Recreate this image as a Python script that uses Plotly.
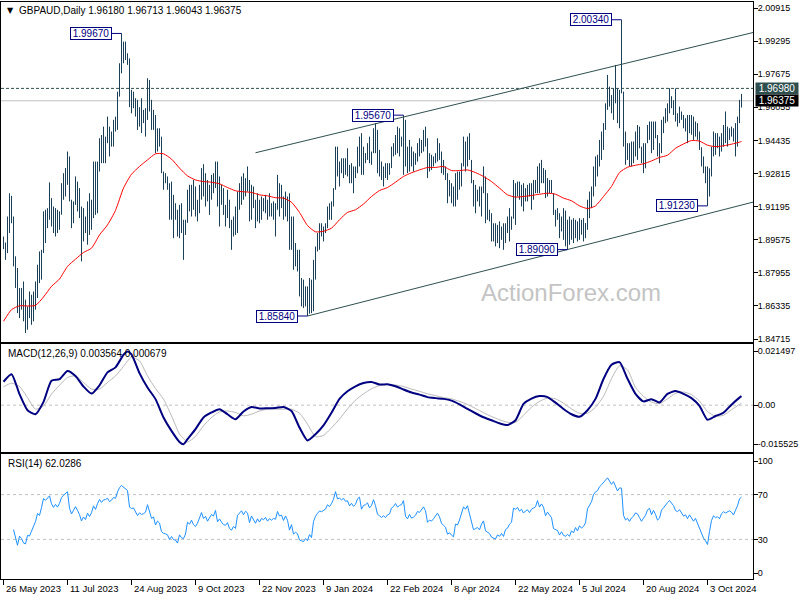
import plotly.graph_objects as go
import pandas as pd

# ---------------- DATA ----------------
highs = [
    1.8973, 1.8944, 1.9071, 1.9185, 1.9172, 1.9071, 1.8876, 1.8819, 1.8721, 1.8721,
    1.8753, 1.8664, 1.8631, 1.8704, 1.8688, 1.8704, 1.8753, 1.8835, 1.8900, 1.8908,
    1.9096, 1.9104, 1.9112, 1.9238, 1.9161, 1.9120, 1.9112, 1.9104, 1.9096, 1.9234,
    1.9283, 1.9308, 1.9389, 1.9365, 1.9153, 1.9145, 1.9267, 1.9242, 1.9210, 1.9120,
    1.9112, 1.9071, 1.9145, 1.9185, 1.9153, 1.9340, 1.9340, 1.9340, 1.9454, 1.9470,
    1.9511, 1.9462, 1.9560, 1.9511, 1.9487, 1.9544, 1.9560, 1.9682, 1.9821, 1.9967,
    1.9927, 1.9927, 1.9870, 1.9845, 1.9691, 1.9682, 1.9650, 1.9642, 1.9606, 1.9650,
    1.9593, 1.9601, 1.9748, 1.9739, 1.9642, 1.9593, 1.9568, 1.9503, 1.9503, 1.9462,
    1.9291, 1.9283, 1.9267, 1.9234, 1.9242, 1.9177, 1.9136, 1.9104, 1.9128, 1.9136,
    1.9055, 1.9055, 1.9202, 1.9226,
    1.9226, 1.9250, 1.9218, 1.9153, 1.9226, 1.9308, 1.9327, 1.9283, 1.9250, 1.9226,
    1.9275, 1.9283, 1.9340, 1.9340, 1.9267, 1.9226, 1.9210, 1.9128, 1.9202, 1.9153,
    1.9055, 1.9071, 1.9120, 1.9193, 1.9234, 1.9267, 1.9283, 1.9259, 1.9316, 1.9250,
    1.9226, 1.9218, 1.9153, 1.9185, 1.9153, 1.9169, 1.9161, 1.9177, 1.9153, 1.9185,
    1.9136, 1.9145, 1.9136, 1.9275, 1.9234, 1.9226, 1.9169, 1.9193, 1.9169, 1.9185,
    1.9071, 1.9071, 1.8941, 1.8908, 1.8908, 1.8770, 1.8762, 1.8729, 1.8729, 1.8770,
    1.8762, 1.8859, 1.8924, 1.8990, 1.9038, 1.9038, 1.9022, 1.9038, 1.9120, 1.9136,
    1.9145, 1.9210, 1.9413, 1.9413, 1.9340, 1.9356, 1.9356, 1.9356, 1.9405, 1.9324,
    1.9332, 1.9316, 1.9316, 1.9413, 1.9462, 1.9479, 1.9413, 1.9381, 1.9430, 1.9462,
    1.9389, 1.9503, 1.9528, 1.9495,
    1.9397, 1.9340, 1.9316, 1.9332, 1.9332, 1.9332, 1.9413, 1.9430, 1.9470, 1.9511,
    1.9503, 1.9462, 1.9567, 1.9544, 1.9413, 1.9446, 1.9413, 1.9389, 1.9381, 1.9430,
    1.9454, 1.9446, 1.9495, 1.9511, 1.9454, 1.9381, 1.9373, 1.9365, 1.9381, 1.9454,
    1.9430, 1.9389, 1.9348, 1.9316, 1.9283, 1.9250, 1.9234, 1.9218, 1.9283, 1.9291,
    1.9291, 1.9332, 1.9462, 1.9438, 1.9462, 1.9479, 1.9348, 1.9250, 1.9226, 1.9202,
    1.9218, 1.9218, 1.9316, 1.9267, 1.9185, 1.9104, 1.9087, 1.9038, 1.9038, 1.9030,
    1.9047, 1.9022, 1.9038, 1.9038, 1.9071, 1.9112, 1.9071, 1.9250, 1.9234, 1.9242,
    1.9242, 1.9226, 1.9234, 1.9210, 1.9226, 1.9234, 1.9234, 1.9250, 1.9250, 1.9316,
    1.9332, 1.9348, 1.9308, 1.9299, 1.9259, 1.9250, 1.9250, 1.9185, 1.9104, 1.9112,
    1.9087, 1.9071, 1.9112,
    1.9100, 1.9055, 1.9071, 1.9055, 1.9063, 1.9055, 1.9047, 1.9063, 1.9055, 1.9063,
    1.9039, 1.9153, 1.9193, 1.9218, 1.9316, 1.9365, 1.9373, 1.9446, 1.9487, 1.9528,
    1.9625, 1.9764, 1.9707, 1.9666, 1.9699, 1.9813, 1.9699, 1.9691, 2.0034, 1.9682,
    1.9487, 1.9430, 1.9430, 1.9438, 1.9438, 1.9487, 1.9519, 1.9511, 1.9413, 1.9430,
    1.9430, 1.9519, 1.9536, 1.9536, 1.9536, 1.9536, 1.9470, 1.9430, 1.9544, 1.9560,
    1.9601, 1.9625, 1.9699, 1.9660, 1.9640, 1.9698, 1.9576, 1.9609, 1.9585, 1.9568,
    1.9552, 1.9568, 1.9568, 1.9568, 1.9560, 1.9536, 1.9528, 1.9487, 1.9410, 1.9365,
    1.9316, 1.9316, 1.9307, 1.9413, 1.9487, 1.9479, 1.9479, 1.9462, 1.9479, 1.9519,
    1.9585, 1.9511, 1.9503, 1.9511, 1.9503, 1.9528, 1.9560, 1.9642, 1.96713,
]

lows = [
    1.8911, 1.8859, 1.8892, 1.8990, 1.9038, 1.8827, 1.8721, 1.8598, 1.8574, 1.8615,
    1.8558, 1.8501, 1.8517, 1.8574, 1.8541, 1.8558, 1.8615, 1.8672, 1.8745, 1.8762,
    1.8892, 1.8941, 1.9014, 1.9055, 1.9022, 1.8990, 1.8973, 1.8990, 1.9006, 1.9080,
    1.9153, 1.9169, 1.9226, 1.9145, 1.9014, 1.9038, 1.9128, 1.9096, 1.9063, 1.8851,
    1.8949, 1.8990, 1.8933, 1.8981, 1.9006, 1.9063, 1.9079, 1.9087, 1.9291, 1.9332,
    1.9332, 1.9332, 1.9430, 1.9365, 1.9413, 1.9413, 1.9487, 1.9495, 1.9658, 1.9772,
    1.9821, 1.9837, 1.9813, 1.9606, 1.9576, 1.9601, 1.9560, 1.9495, 1.9511, 1.9479,
    1.9528, 1.9462, 1.9544, 1.9585, 1.9495, 1.9495, 1.9381, 1.9389, 1.9413, 1.9283,
    1.9202, 1.9234, 1.9202, 1.9055, 1.9055, 1.8965, 1.9055, 1.8973, 1.8965, 1.8990,
    1.8859, 1.8981, 1.9040, 1.9096,
    1.9071, 1.9104, 1.9071, 1.9047, 1.9087, 1.9153, 1.9169, 1.9120, 1.9145, 1.9079,
    1.9153, 1.9185, 1.9210, 1.9120, 1.9022, 1.9128, 1.9079, 1.9022, 1.9063, 1.9014,
    1.8908, 1.8973, 1.8981, 1.8990, 1.9104, 1.9128, 1.9153, 1.9169, 1.9193, 1.9047,
    1.9055, 1.9112, 1.9014, 1.9047, 1.9038, 1.9055, 1.9096, 1.9087, 1.9055, 1.9071,
    1.9071, 1.9055, 1.8973, 1.9104, 1.9071, 1.9112, 1.9055, 1.9071, 1.9047, 1.8908,
    1.8908, 1.8810, 1.8827, 1.8802, 1.8680, 1.8631, 1.8623, 1.8631, 1.8584, 1.8595,
    1.8598, 1.8607, 1.8762, 1.8900, 1.8908, 1.8973, 1.8949, 1.8990, 1.9014, 1.9055,
    1.9055, 1.9120, 1.9202, 1.9267, 1.9218, 1.9283, 1.9259, 1.9275, 1.9267, 1.9234,
    1.9234, 1.9185, 1.9259, 1.9283, 1.9316, 1.9275, 1.9275, 1.9332, 1.9348, 1.9332,
    1.9324, 1.9381, 1.9381, 1.9283,
    1.9267, 1.9250, 1.9218, 1.9259, 1.9250, 1.9275, 1.9308, 1.9365, 1.9373, 1.9381,
    1.9365, 1.9413, 1.9275, 1.9316, 1.9283, 1.9291, 1.9316, 1.9291, 1.9324, 1.9340,
    1.9365, 1.9381, 1.9389, 1.9413, 1.9259, 1.9291, 1.9299, 1.9316, 1.9332, 1.9340,
    1.9348, 1.9283, 1.9275, 1.9250, 1.9136, 1.9169, 1.9136, 1.9120, 1.9120, 1.9153,
    1.9202, 1.9218, 1.9316, 1.9291, 1.9316, 1.9348, 1.9234, 1.9120, 1.9087, 1.9145,
    1.9120, 1.9071, 1.9185, 1.9038, 1.9055, 1.9047, 1.8949, 1.8949, 1.8925, 1.8941,
    1.8916, 1.8957, 1.8908, 1.8941, 1.8990, 1.8949, 1.9006, 1.9060, 1.9030, 1.9169,
    1.9153, 1.9120, 1.9096, 1.9145, 1.9145, 1.9169, 1.9104, 1.9153, 1.9185, 1.9185,
    1.9185, 1.9234, 1.9234, 1.9161, 1.9169, 1.9185, 1.9185, 1.9079, 1.9022, 1.9055,
    1.8965, 1.8998, 1.8957,
    1.8925, 1.8909, 1.8933, 1.8957, 1.8941, 1.8965, 1.8949, 1.8957, 1.8982, 1.8949,
    1.8965, 1.9006, 1.9063, 1.9112, 1.9169, 1.9218, 1.9267, 1.9316, 1.9348, 1.9397,
    1.9495, 1.9593, 1.9609, 1.9576, 1.9544, 1.9625, 1.9528, 1.9503, 1.9674, 1.9413,
    1.9324, 1.9348, 1.9316, 1.9316, 1.9332, 1.9365, 1.9348, 1.9405, 1.9332, 1.9283,
    1.9307, 1.9430, 1.9446, 1.9381, 1.9397, 1.9454, 1.9365, 1.9332, 1.9381, 1.9479,
    1.9528, 1.9536, 1.9576, 1.9601, 1.9568, 1.9536, 1.9511, 1.9528, 1.9544, 1.9503,
    1.9487, 1.9430, 1.9479, 1.9471, 1.9446, 1.9462, 1.9446, 1.9397, 1.9316, 1.9283,
    1.9234, 1.9123, 1.9169, 1.9267, 1.9365, 1.9373, 1.9405, 1.9365, 1.9389, 1.9413,
    1.9430, 1.9413, 1.9446, 1.9462, 1.9438, 1.9365, 1.9413, 1.9528, 1.96043,
]

closes = [
    1.8925, 1.8905, 1.9040, 1.9120, 1.9050, 1.8850, 1.8760, 1.8620, 1.8690, 1.8650,
    1.8560, 1.8540, 1.8610, 1.8600, 1.8640, 1.8690, 1.8730, 1.8820, 1.8800, 1.8900,
    1.9060, 1.9040, 1.9090, 1.9130, 1.9050, 1.9010, 1.9060, 1.9030, 1.9090, 1.9200,
    1.9250, 1.9280, 1.9330, 1.9150, 1.9070, 1.9135, 1.9200, 1.9150, 1.9090, 1.8990,
    1.9050, 1.9010, 1.9110, 1.9060, 1.9120, 1.9250, 1.9200, 1.9320, 1.9420, 1.9380,
    1.9440, 1.9450, 1.9480, 1.9440, 1.9470, 1.9530, 1.9520, 1.9670, 1.9800, 1.9880,
    1.9860, 1.9850, 1.9830, 1.9640, 1.9620, 1.9630, 1.9580, 1.9530, 1.9570, 1.9550,
    1.9560, 1.9580, 1.9690, 1.9600, 1.9520, 1.9540, 1.9420, 1.9470, 1.9440, 1.9285,
    1.9250, 1.9240, 1.9220, 1.9120, 1.9150, 1.9080, 1.9070, 1.9000, 1.9080, 1.9020,
    1.9000, 1.9045, 1.9180, 1.9150,
    1.9200, 1.9130, 1.9100, 1.9140, 1.9200, 1.9280, 1.9200, 1.9230, 1.9160, 1.9200,
    1.9250, 1.9230, 1.9310, 1.9150, 1.9190, 1.9140, 1.9100, 1.9090, 1.9120, 1.9030,
    1.9000, 1.9040, 1.9010, 1.9170, 1.9210, 1.9240, 1.9190, 1.9240, 1.9220, 1.9090,
    1.9180, 1.9130, 1.9070, 1.9130, 1.9080, 1.9130, 1.9110, 1.9140, 1.9090, 1.9120,
    1.9100, 1.9120, 1.9110, 1.9200, 1.9150, 1.9160, 1.9100, 1.9150, 1.9100, 1.8960,
    1.9020, 1.8850, 1.8870, 1.8840, 1.8700, 1.8680, 1.8660, 1.8690, 1.8640, 1.8700,
    1.8640, 1.8830, 1.8910, 1.8960, 1.9000, 1.8990, 1.9010, 1.9030, 1.9100, 1.9080,
    1.9130, 1.9205, 1.9380, 1.9300, 1.9320, 1.9300, 1.9330, 1.9300, 1.9310, 1.9260,
    1.9300, 1.9270, 1.9300, 1.9390, 1.9420, 1.9300, 1.9360, 1.9370, 1.9400, 1.9350,
    1.9385, 1.9480, 1.9420, 1.9320,
    1.9300, 1.9280, 1.9300, 1.9280, 1.9310, 1.9320, 1.9390, 1.9410, 1.9450, 1.9420,
    1.9440, 1.9450, 1.9500, 1.9360, 1.9330, 1.9380, 1.9340, 1.9350, 1.9370, 1.9410,
    1.9400, 1.9430, 1.9460, 1.9430, 1.9320, 1.9340, 1.9330, 1.9350, 1.9370, 1.9400,
    1.9370, 1.9310, 1.9290, 1.9270, 1.9190, 1.9200, 1.9170, 1.9150, 1.9240, 1.9230,
    1.9270, 1.9320, 1.9400, 1.9380, 1.9420, 1.9350, 1.9245, 1.9160, 1.9170, 1.9180,
    1.9150, 1.9200, 1.9230, 1.9100, 1.9080, 1.9060, 1.9000, 1.8990, 1.8970, 1.9000,
    1.8980, 1.9000, 1.8960, 1.9010, 1.9020, 1.9050, 1.9065, 1.9200, 1.9190, 1.9210,
    1.9180, 1.9200, 1.9170, 1.9190, 1.9200, 1.9180, 1.9210, 1.9220, 1.9230, 1.9290,
    1.9250, 1.9280, 1.9260, 1.9200, 1.9230, 1.9210, 1.9190, 1.9090, 1.9080, 1.9070,
    1.9020, 1.9040, 1.9000,
    1.8990, 1.9000, 1.8980, 1.9010, 1.8990, 1.9020, 1.8990, 1.9020, 1.9000, 1.9010,
    1.9030, 1.9130, 1.9170, 1.9200, 1.9290, 1.9330, 1.9350, 1.9420, 1.9460, 1.9510,
    1.9600, 1.9650, 1.9630, 1.9610, 1.9680, 1.9650, 1.9620, 1.9680, 1.9678, 1.9440,
    1.9380, 1.9400, 1.9360, 1.9400, 1.9420, 1.9460, 1.9450, 1.9410, 1.9370, 1.9400,
    1.9430, 1.9490, 1.9510, 1.9450, 1.9500, 1.9460, 1.9400, 1.9420, 1.9510, 1.9540,
    1.9580, 1.9610, 1.9640, 1.9620, 1.9600, 1.9560, 1.9550, 1.9570, 1.9550, 1.9520,
    1.9530, 1.9500, 1.9530, 1.9500, 1.9480, 1.9500, 1.9460, 1.9405, 1.9340, 1.9300,
    1.9260, 1.9200, 1.9290, 1.9390, 1.9440, 1.9420, 1.9430, 1.9410, 1.9460, 1.9480,
    1.9470, 1.9480, 1.9490, 1.9480, 1.9460, 1.9500, 1.9540, 1.9618, 1.96375,
]
first_open = 1.8950

# 55-day moving average (red), read every 4 bars
ma_idx = list(range(0, 369, 4)) + [369]
ma_vals = [
    1.8558, 1.8615, 1.8634, 1.8633, 1.8636, 1.8677, 1.8729, 1.8765, 1.8827, 1.8862,
    1.8895, 1.8916, 1.8981, 1.9030, 1.9101, 1.9210, 1.9278, 1.9316, 1.9348, 1.9378,
    1.9378, 1.9352, 1.9308, 1.9270, 1.9250, 1.9242, 1.9239, 1.9231, 1.9213, 1.9197,
    1.9192, 1.9189, 1.9177, 1.9172, 1.9163, 1.9161, 1.9141, 1.9091, 1.9027, 1.8996,
    1.8999, 1.9014, 1.9055, 1.9091, 1.9104, 1.9132, 1.9169, 1.9198, 1.9213, 1.9239,
    1.9267, 1.9285, 1.9299, 1.9311, 1.9311, 1.9316, 1.9296, 1.9296, 1.9299, 1.9286,
    1.9267, 1.9242, 1.9210, 1.9177, 1.9166, 1.9169, 1.9174, 1.9180, 1.9185, 1.9180,
    1.9161, 1.9148, 1.9123, 1.9110, 1.9123, 1.9169, 1.9218, 1.9286, 1.9312, 1.9322,
    1.9329, 1.9343, 1.9360, 1.9371, 1.9405, 1.9426, 1.9443, 1.9440, 1.9420, 1.9413,
    1.9417, 1.9425, 1.9435, 1.9438,
]

# MACD(12,26,9) main and signal lines
macd_idx = [0, 4, 8, 12, 16, 20, 24, 28, 32, 36, 40, 44, 48, 52, 56, 60, 62, 64, 68, 72,
            76, 80, 84, 88, 90, 92, 96, 100, 104, 108, 112, 116, 120, 124, 128, 132, 136,
            140, 144, 148, 152, 156, 160, 164, 168, 172, 176, 180, 184, 188, 192, 196, 200,
            204, 208, 212, 216, 220, 224, 228, 232, 236, 240, 244, 248, 252, 256, 260, 264,
            268, 272, 276, 280, 284, 288, 292, 296, 300, 304, 308, 312, 316, 320, 324, 328,
            332, 336, 340, 344, 348, 352, 356, 360, 364, 368, 369]
macd_vals = [0.0093, 0.0123, 0.0044, -0.0020, -0.0036, 0.0013, 0.0097, 0.0103, 0.0136, 0.0116,
             0.0074, 0.0046, 0.0079, 0.0130, 0.0150, 0.0200, 0.0213, 0.0202, 0.0127, 0.0070,
             0.0024, -0.0049, -0.0102, -0.0146, -0.0155, -0.0135, -0.0095, -0.0049, -0.0029,
             -0.0016, -0.0036, -0.0056, -0.0025, -0.0007, -0.0013, -0.0012, -0.0011, -0.0007,
             -0.0023, -0.0089, -0.0140, -0.0115, -0.0080, -0.0030, 0.0025, 0.0055, 0.0075,
             0.0088, 0.0092, 0.0082, 0.0083, 0.0075, 0.0062, 0.0050, 0.0042, 0.0032, 0.0028,
             0.0025, 0.0018, 0.0003, -0.0015, -0.0032, -0.0048, -0.0060, -0.0072, -0.0079,
             -0.0060, 0.0005, 0.0026, 0.0036, 0.0032, 0.0010, -0.0015, -0.0036, -0.0046,
             -0.0020, 0.0025, 0.0104, 0.0160, 0.0171, 0.0105, 0.0045, 0.0015, 0.0024, 0.0011,
             0.0045, 0.0056, 0.0045, 0.0028, -0.0003, -0.0058, -0.0043, -0.0030, 0.0002,
             0.0030, 0.003564]
signal_vals = [0.0073, 0.0087, 0.0074, 0.0030, -0.0016, -0.0003, 0.0044, 0.0079, 0.0110, 0.0116,
               0.0090, 0.0064, 0.0064, 0.0090, 0.0116, 0.0154, 0.0175, 0.0190, 0.0176, 0.0116,
               0.0066, 0.0024, -0.0042, -0.0115, -0.0132, -0.0146, -0.0124, -0.0082, -0.0049,
               -0.0027, -0.0023, -0.0029, -0.0042, -0.0036, -0.0023, -0.0016, -0.0016, -0.0016,
               -0.0016, -0.0032, -0.0075, -0.0125, -0.0120, -0.0090, -0.0055, -0.0015, 0.0020,
               0.0045, 0.0065, 0.0078, 0.0082, 0.0080, 0.0074, 0.0064, 0.0055, 0.0045, 0.0038,
               0.0030, 0.0025, 0.0015, 0.0003, -0.0013, -0.0030, -0.0045, -0.0058, -0.0068,
               -0.0068, -0.0040, -0.0008, 0.0015, 0.0028, 0.0025, 0.0008, -0.0015, -0.0032,
               -0.0032, -0.0008, 0.0035, 0.0105, 0.0156, 0.0140, 0.0070, 0.0035, 0.0012, 0.0006,
               0.0025, 0.0047, 0.0052, 0.0042, 0.0016, -0.0025, -0.0044, -0.0040, -0.0018,
               0.0003, 0.000679]

date_labels = ["26 May 2023", "11 Jul 2023", "24 Aug 2023", "9 Oct 2023", "22 Nov 2023",
               "9 Jan 2024", "22 Feb 2024", "8 Apr 2024", "22 May 2024", "5 Jul 2024",
               "20 Aug 2024", "3 Oct 2024"]
date_label_bars = [0, 32, 64, 96, 128, 160, 192, 224, 256, 288, 320, 352]

price_ticks = [2.00915, 1.99295, 1.97675, 1.96055, 1.94435, 1.92815, 1.91195,
               1.89575, 1.87955, 1.86335, 1.84715]
macd_ticks = [0.021497, 0.0, -0.015525]
macd_tick_text = ["0.021497", "0.00", "-0.015525"]
rsi_ticks = [100, 70, 30, 0]
rsi_levels = [70, 30]

extreme_bars = [59, 309, 200, 152, 282, 352]
extreme_prices = [1.99670, 2.00340, 1.95670, 1.85840, 1.89090, 1.91230]

channel_upper_x = [126, 375]
channel_upper_y = [1.9383, 1.9972]
channel_lower_x = [152, 375]
channel_lower_y = [1.8584, 1.9142]

resistance_level = 1.96980
last_price = 1.96375
title_text = "GBPAUD,Daily 1.96180 1.96713 1.96043 1.96375"
macd_text = "MACD(12,26,9) 0.003564 0.000679"
rsi_text = "RSI(14) 62.0286"
watermark = "ActionForex.com"

assert len(highs) == len(lows) == len(closes)
assert len(ma_idx) == len(ma_vals)
assert len(macd_idx) == len(macd_vals) == len(signal_vals)

# ---------------- derived ----------------
n = len(closes)
bars = list(range(n))
opens = [first_open] + closes[:-1]

cs = pd.Series(closes)
delta = cs.diff()
gain = delta.clip(lower=0)
loss = (-delta).clip(lower=0)
avg_gain = gain.ewm(alpha=1 / 14, adjust=True).mean()
avg_loss = loss.ewm(alpha=1 / 14, adjust=True).mean()
rsi = 100 - 100 / (1 + avg_gain / avg_loss)
RSI_START = 5

# ---------------- styling / layout ----------------
FONT = "Liberation Sans"
BAR_COLOR = "#1b3f56"
SLATE = "#2F4F4F"
NAVY = "#000080"

W, H = 800, 600
L, R, T, B = 1, 47, 2, 21
PW, PH = W - L - R, H - T - B


def px_x(x):
    return (x - L) / PW


def px_y(y):
    return (H - B - y) / PH


main_dom = [px_y(342), 1.0]
macd_dom = [px_y(452), px_y(344)]
rsi_dom = [0.0, px_y(454)]

fig = go.Figure()

fig.add_trace(go.Ohlc(
    x=bars, open=opens, high=highs, low=lows, close=closes,
    increasing=dict(line=dict(color=BAR_COLOR, width=1)),
    decreasing=dict(line=dict(color=BAR_COLOR, width=1)),
    tickwidth=0, hoverinfo="skip", showlegend=False, xaxis="x", yaxis="y"))

fig.add_trace(go.Scatter(x=ma_idx, y=ma_vals, mode="lines",
                         line=dict(color="#ff0000", width=1, shape="spline", smoothing=0.6),
                         hoverinfo="skip", showlegend=False, xaxis="x", yaxis="y"))

fig.add_trace(go.Scatter(x=channel_upper_x, y=channel_upper_y, mode="lines",
                         line=dict(color=SLATE, width=1), hoverinfo="skip",
                         showlegend=False, xaxis="x", yaxis="y"))
fig.add_trace(go.Scatter(x=channel_lower_x, y=channel_lower_y, mode="lines",
                         line=dict(color=SLATE, width=1), hoverinfo="skip",
                         showlegend=False, xaxis="x", yaxis="y"))

fig.add_trace(go.Scatter(x=macd_idx, y=signal_vals, mode="lines",
                         line=dict(color="#b8b8b8", width=1, shape="spline", smoothing=0.6),
                         hoverinfo="skip", showlegend=False, xaxis="x2", yaxis="y2"))
fig.add_trace(go.Scatter(x=macd_idx, y=macd_vals, mode="lines",
                         line=dict(color=NAVY, width=2, shape="spline", smoothing=0.6),
                         hoverinfo="skip", showlegend=False, xaxis="x2", yaxis="y2"))

fig.add_trace(go.Scatter(x=bars[RSI_START:], y=list(rsi[RSI_START:]), mode="lines",
                         line=dict(color="#1E90FF", width=1),
                         hoverinfo="skip", showlegend=False, xaxis="x3", yaxis="y3"))

# shift by a quarter bar so 1px bar lines land on whole pixels (crisp)
xr = [-1.25, -1.25 + PW / 2]
common_x = dict(range=xr, showgrid=False, zeroline=False, showline=True, mirror=True,
                linecolor="black", linewidth=1, fixedrange=True)
common_y = dict(side="right", showgrid=False, zeroline=False, showline=True, mirror=True,
                linecolor="black", linewidth=1, ticks="outside", ticklen=4,
                tickcolor="black", ticklabelstandoff=-2,
                tickfont=dict(family=FONT, size=9, color="black"))

fig.update_layout(
    width=W, height=H,
    margin=dict(l=L, r=R, t=T, b=B, pad=0),
    paper_bgcolor="white", plot_bgcolor="white",
    font=dict(family=FONT, size=10, color="black"),
    showlegend=False,
    xaxis=dict(domain=[0, 1], anchor="y", showticklabels=False, ticks="",
               rangeslider=dict(visible=False), **common_x),
    yaxis=dict(domain=main_dom, anchor="x", range=[1.84568, 2.01209],
               tickvals=price_ticks, ticktext=[f"{v:.5f}" for v in price_ticks], **common_y),
    xaxis2=dict(domain=[0, 1], anchor="y2", showticklabels=False, ticks="",
                rangeslider=dict(visible=False), **common_x),
    yaxis2=dict(domain=macd_dom, anchor="x2", range=[-0.018581, 0.024275],
                tickvals=macd_ticks, ticktext=macd_tick_text, **common_y),
    xaxis3=dict(domain=[0, 1], anchor="y3", showticklabels=False, ticks="outside",
                ticklen=5, tickcolor="black", tickvals=date_label_bars,
                rangeslider=dict(visible=False), **common_x),
    yaxis3=dict(domain=rsi_dom, anchor="x3", range=[-5.36, 106.25],
                tickvals=rsi_ticks, ticktext=[str(v) for v in rsi_ticks], **common_y),
)

shapes = [
    dict(type="line", xref="x", yref="y", x0=xr[0], x1=xr[1], y0=last_price, y1=last_price,
         line=dict(color="#c0c0c0", width=1), layer="below"),
    dict(type="line", xref="x", yref="y", x0=xr[0], x1=xr[1], y0=resistance_level,
         y1=resistance_level, line=dict(color=SLATE, width=1, dash="3px,2px")),
    dict(type="line", xref="x2", yref="y2", x0=xr[0], x1=xr[1], y0=0, y1=0,
         line=dict(color="#c0c0c0", width=1, dash="3px,3px"), layer="below"),
]
for lv in rsi_levels:
    shapes.append(dict(type="line", xref="x3", yref="y3", x0=xr[0], x1=xr[1], y0=lv, y1=lv,
                       line=dict(color="#c0c0c0", width=1, dash="3px,3px"), layer="below"))
fig.update_layout(shapes=shapes)

ann = []
# title & panel labels
ann.append(dict(xref="paper", yref="paper", x=px_x(5), y=px_y(11), text="▼",
                showarrow=False, xanchor="left", yanchor="middle",
                font=dict(family="DejaVu Sans", size=8, color="black")))
ann.append(dict(xref="paper", yref="paper", x=px_x(17), y=px_y(11), text=title_text,
                showarrow=False, xanchor="left", yanchor="middle",
                font=dict(family=FONT, size=10, color="black")))
ann.append(dict(xref="paper", yref="paper", x=px_x(6), y=px_y(353), text=macd_text,
                showarrow=False, xanchor="left", yanchor="middle",
                font=dict(family=FONT, size=10, color="black")))
ann.append(dict(xref="paper", yref="paper", x=px_x(6), y=px_y(463), text=rsi_text,
                showarrow=False, xanchor="left", yanchor="middle",
                font=dict(family=FONT, size=10, color="black")))
# watermark
ann.append(dict(xref="paper", yref="paper", x=px_x(571), y=px_y(292), text=watermark,
                showarrow=False, xanchor="center", yanchor="middle",
                font=dict(family=FONT, size=24, color="#c4c4c4")))
# date labels
for b, t in zip(date_label_bars, date_labels):
    ann.append(dict(xref="x3", yref="paper", x=b, y=px_y(588), text=t, showarrow=False,
                    xanchor="left", yanchor="middle", xshift=0,
                    font=dict(family=FONT, size=9.5, color="black")))
# extreme value boxes
for b, p in zip(extreme_bars, extreme_prices):
    ann.append(dict(xref="x", yref="y", x=b, y=p, text=f"{p:.5f}", showarrow=True,
                    arrowhead=0, arrowwidth=1, arrowcolor=NAVY, ax=-31, ay=0,
                    bgcolor="white", bordercolor=NAVY, borderwidth=1, borderpad=0,
                    width=40, height=11,
                    font=dict(family=FONT, size=10, color=NAVY)))
# right-side price boxes
ann.append(dict(xref="paper", yref="y", x=1, y=resistance_level, text=f"{resistance_level:.5f}",
                showarrow=False, xanchor="left", yanchor="middle", xshift=2,
                bgcolor=SLATE, width=42, height=11, borderpad=0,
                font=dict(family=FONT, size=10, color="white")))
ann.append(dict(xref="paper", yref="y", x=1, y=last_price, text=f"{last_price:.5f}",
                showarrow=False, xanchor="left", yanchor="middle", xshift=2,
                bgcolor="black", width=42, height=11, borderpad=0,
                font=dict(family=FONT, size=10, color="white")))
fig.update_layout(annotations=ann)

fig.write_html("out.html", config={"displayModeBar": False},
               post_script="document.body.style.margin='0';document.body.style.overflow='hidden';")
